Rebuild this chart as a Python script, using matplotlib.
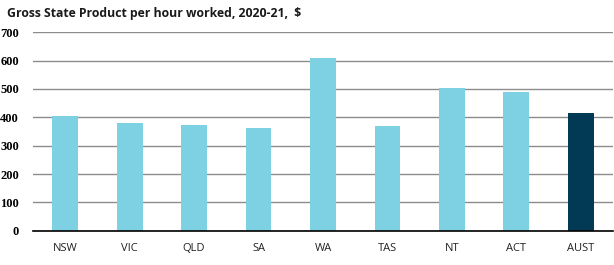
import matplotlib
matplotlib.use("Agg")
import matplotlib.pyplot as plt

# Gross State Product per hour worked, 2020-21 ($)
states = ["NSW", "VIC", "QLD", "SA", "WA", "TAS", "NT", "ACT", "AUST"]
gsp_per_hour = [405, 380, 373, 362, 609, 369, 502, 489, 415]
yticks = [0, 100, 200, 300, 400, 500, 600, 700]

LIGHT = "#7dd1e2"
DARK = "#023a56"
colors = [DARK if s == "AUST" else LIGHT for s in states]

fig = plt.figure(figsize=(6.14, 2.65), dpi=100)
ax = fig.add_axes([33 / 614, 34.3 / 265, 580 / 614, 198.4 / 265])

ax.bar(range(len(states)), gsp_per_hour, width=0.4, color=colors, zorder=3)

ax.set_xlim(-0.5, len(states) - 0.5)
ax.set_ylim(0, 700)
ax.set_yticks(yticks)
ax.set_yticklabels([str(v) for v in yticks], fontsize=9,
                   fontfamily="Liberation Serif", fontweight="bold")
ax.set_xticks(range(len(states)))
ax.set_xticklabels(states, fontsize=8, fontfamily="Open Sans", color="#222222")
ax.tick_params(axis="y", length=0, pad=10)
ax.tick_params(axis="x", length=0, pad=9)

ax.grid(axis="y", color="#8c8c8c", linewidth=1.0, zorder=0)
for side in ["top", "right", "left"]:
    ax.spines[side].set_visible(False)
ax.spines["bottom"].set_color("black")
ax.spines["bottom"].set_linewidth(1.2)
ax.spines["bottom"].set_zorder(4)

fig.text(7 / 614, 1 - 13 / 265, "Gross State Product per hour worked, 2020-21,  $",
         fontsize=8.8, fontfamily="Open Sans", fontweight="bold",
         ha="left", va="center", color="#1a1a1a")

fig.savefig("out.png", dpi=100, facecolor="white")
